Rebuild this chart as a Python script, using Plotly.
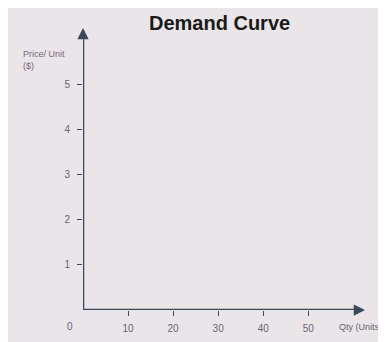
import plotly.graph_objects as go

title = "Demand Curve"
x_ticks = [10, 20, 30, 40, 50]
y_ticks = [1, 2, 3, 4, 5]
x_label = "Qty (Units"
y_label = "Price/ Unit<br>($)"

# the page body adds an 8px offset; figure fills the rest of the window
OFF = 8
W, H = 386 - OFF, 342 - OFF
L, R, T, B = 83 - OFF, 21, 28 - OFF, 32
PW, PH = W - L - R, H - T - B
xmax = 62.6
ymax = 6.25
axis_col = "#3b4858"
bg = "#e9e5e9"
txt = "#6a6470"
font = "Liberation Sans, Arial"


def px(xp):
    return (xp - OFF - L) / PW


def py(yp):
    return 1 - (yp - OFF - T) / PH


fig = go.Figure()
fig.add_trace(go.Scatter(x=[0], y=[0], mode="markers", marker=dict(opacity=0), hoverinfo="skip", showlegend=False))

fig.update_layout(
    width=W, height=H,
    margin=dict(l=L, r=R, t=T, b=B, autoexpand=False),
    paper_bgcolor=bg, plot_bgcolor="rgba(0,0,0,0)",
    showlegend=False,
    xaxis=dict(range=[0, xmax], tickvals=x_ticks, ticktext=[str(v) for v in x_ticks],
               showgrid=False, zeroline=False, showline=False, automargin=False,
               ticks="outside", ticklen=5, tickwidth=1.2, tickcolor=axis_col,
               tickfont=dict(family=font, size=10, color=txt),
               ticklabelstandoff=4,
               fixedrange=True),
    yaxis=dict(range=[0, ymax], tickvals=y_ticks, ticktext=[str(v) for v in y_ticks],
               showgrid=False, zeroline=False, showline=False, automargin=False,
               ticks="outside", ticklen=5, tickwidth=1.2, tickcolor=axis_col,
               tickfont=dict(family=font, size=10, color=txt),
               ticklabelstandoff=5,
               fixedrange=True),
)

# axis lines
fig.add_shape(type="line", xref="x", yref="y", x0=0, x1=xmax - 1.2, y0=0, y1=0,
              line=dict(color=axis_col, width=2.5))
fig.add_shape(type="line", xref="x", yref="y", x0=0, x1=0, y0=0, y1=ymax - 0.12,
              line=dict(color=axis_col, width=2.5))

# arrowheads
fig.add_annotation(x=xmax, y=0, xref="x", yref="y", ax=-10, ay=0, text="",
                   showarrow=True, arrowhead=2, arrowsize=0.9, arrowwidth=2.5, arrowcolor=axis_col)
fig.add_annotation(x=0, y=ymax, xref="x", yref="y", ax=0, ay=10, text="",
                   showarrow=True, arrowhead=2, arrowsize=0.9, arrowwidth=2.5, arrowcolor=axis_col)

# title
fig.add_annotation(x=px(219), y=py(23), xref="paper", yref="paper", text="<b>" + title + "</b>",
                   showarrow=False, xanchor="center", yanchor="middle",
                   font=dict(family=font, size=20, color="#1a1a1a"))
# labels
fig.add_annotation(x=px(21), y=py(47), xref="paper", yref="paper",
                   text=y_label, showarrow=False, align="left", xanchor="left", yanchor="top",
                   font=dict(family=font, size=9, color="#76687a"))
fig.add_annotation(x=px(70), y=py(326), xref="paper", yref="paper", text="0",
                   showarrow=False, xanchor="center", yanchor="middle",
                   font=dict(family=font, size=10, color=txt))
fig.add_annotation(x=px(337), y=py(327), xref="paper", yref="paper",
                   text=x_label, showarrow=False, xanchor="left", yanchor="middle",
                   font=dict(family=font, size=9, color=txt))

fig.write_html("out.html")
